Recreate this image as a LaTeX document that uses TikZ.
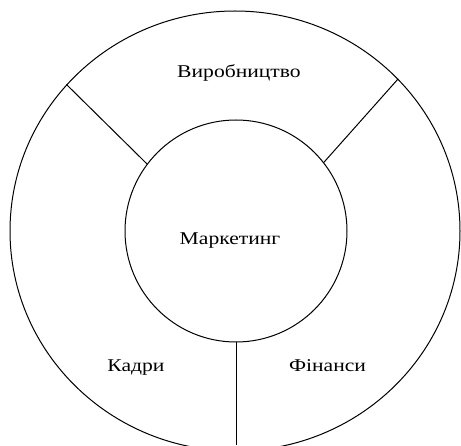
\documentclass[tikz,border=0pt]{standalone}
\usepackage{fontspec}
\setmainfont{Liberation Serif}
\usetikzlibrary{shapes.geometric}
\begin{document}
\begin{tikzpicture}[x=1pt,y=1pt,
  ring/.style={draw,ellipse,inner sep=0pt,line width=1pt},
  divider/.style={draw,line width=1pt},
  lbl/.style={anchor=base,inner sep=0pt,font=\fontsize{18}{20}\selectfont}]
\useasboundingbox (0,0) rectangle (461,445);
\clip (0,0) rectangle (461,445);
\node[ring,minimum width=450pt,minimum height=440pt] (outer) at (235,214) {};
\node[ring,minimum width=222pt,minimum height=222pt] (inner) at (236,214) {};
\coordinate (bottom) at (236,0);
\draw[divider] (inner.143.9) -- (outer.139.1);
\draw[divider] (inner.38.8) -- (outer.43.9);
\draw[divider] (inner.south) -- (bottom);
\node[lbl] (prod) at (239,367) {\scalebox{1.2}[1]{Виробництво}};
\node[lbl] (mark) at (230,200) {\scalebox{1.2}[1]{Маркетинг}};
\node[lbl] (kadr) at (136,73) {\scalebox{1.2}[1]{Кадри}};
\node[lbl] (fin) at (327.5,73) {\scalebox{1.2}[1]{Фінанси}};
\end{tikzpicture}
\end{document}
